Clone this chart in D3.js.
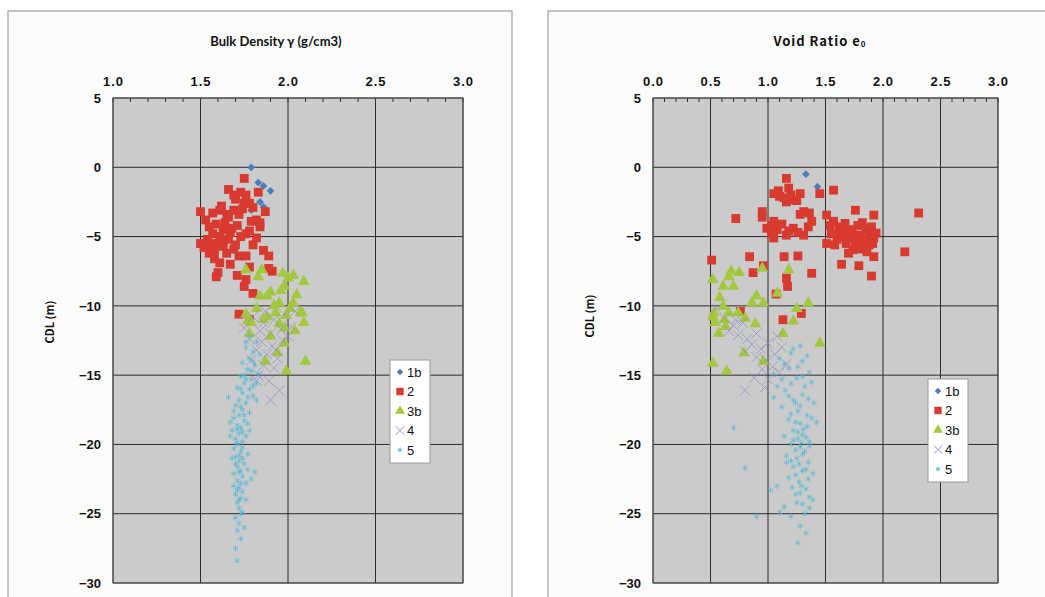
<!DOCTYPE html>
<html>
<head>
<meta charset="utf-8">
<script src="https://cdn.jsdelivr.net/npm/d3@7"></script>
<style>
  body { margin: 0; background: #fff; }
  svg { display: block; }
</style>
</head>
<body>
<svg id="chart" width="1045" height="597"></svg>
<script>
// categories
const seriesNames = ["1b", "2", "3b", "4", "5"]
const depthTicks = [5, 0, -5, -10, -15, -20, -25, -30]
const densityTicks = [1.0, 1.5, 2.0, 2.5, 3.0]
const voidTicks = [0.0, 0.5, 1.0, 1.5, 2.0, 2.5, 3.0]

// bulk density [gamma, CDL]
const density1b = [[1.79,0.0],[1.83,-1.1],[1.86,-1.35],[1.90,-1.7],[1.84,-2.5],[1.86,-2.85],[1.79,-3.1]]
const density2 = [[1.75,-0.8],[1.66,-1.6],[1.73,-1.8],[1.76,-2.0],[1.83,-1.8],[1.70,-2.3],[1.78,-2.6],[1.62,-2.8],
  [1.50,-3.2],[1.57,-3.3],[1.61,-3.1],[1.69,-3.1],[1.75,-2.6],[1.87,-3.2],[1.82,-3.8],[1.66,-3.6],[1.72,-3.4],
  [1.64,-4.0],[1.55,-4.3],[1.59,-4.1],[1.68,-4.4],[1.61,-5.0],[1.73,-5.0],[1.78,-4.6],[1.84,-4.3],[1.79,-3.9],
  [1.54,-5.2],[1.59,-5.5],[1.66,-5.2],[1.76,-4.8],[1.82,-5.1],[1.63,-5.7],[1.70,-5.6],[1.57,-4.8],[1.52,-5.8],
  [1.55,-6.2],[1.61,-6.9],[1.58,-6.0],[1.65,-6.2],[1.67,-4.7],[1.71,-4.2],[1.76,-6.4],[1.89,-6.4],[1.89,-7.3],
  [1.91,-7.5],[1.59,-7.9],[1.71,-7.8],[1.76,-8.1],[1.75,-8.6],[1.80,-9.1],[1.72,-10.6],[1.78,-11.0],[1.69,-5.9],
  [1.63,-4.5],[1.56,-5.6],[1.74,-3.0],[1.80,-2.9],[1.69,-2.0],[1.80,-5.6],[1.86,-6.0],[1.67,-7.0],[1.78,-7.2],
  [1.53,-3.8],[1.58,-6.6],[1.65,-3.4],[1.84,-4.0],[1.62,-5.3],[1.72,-6.4],[1.50,-5.5],[1.60,-7.6]]
const density3b = [[1.76,-7.4],[1.85,-7.4],[1.97,-7.65],[2.03,-7.8],[2.09,-8.25],[1.98,-8.6],[1.84,-9.3],[1.88,-9.3],
  [1.95,-9.8],[2.03,-9.8],[2.07,-10.5],[1.76,-10.6],[1.82,-10.2],[1.93,-10.5],[1.99,-10.7],[2.09,-11.2],[1.79,-11.2],
  [1.98,-11.6],[1.77,-11.1],[1.86,-11.0],[2.08,-10.5],[1.78,-12.0],[1.94,-13.4],[1.98,-12.7],[1.87,-14.0],[2.10,-14.0],
  [1.99,-14.7],[1.90,-9.0],[2.00,-8.0],[2.05,-9.2],[1.92,-10.0],[2.01,-10.2],[1.88,-10.8],[1.95,-11.3],[2.04,-11.8],
  [1.96,-8.9],[1.83,-7.9],[1.90,-12.2]]
const density4 = [[1.80,-10.8],[1.86,-11.2],[1.92,-11.0],[1.98,-10.6],[2.04,-10.4],[1.84,-11.8],[1.90,-12.0],[1.96,-11.7],
  [2.02,-11.5],[1.78,-12.4],[1.85,-12.6],[1.91,-12.9],[1.97,-12.5],[1.82,-13.2],[1.88,-13.5],[1.94,-13.8],[1.79,-13.9],
  [1.86,-14.3],[1.92,-14.5],[1.83,-15.0],[1.89,-15.4],[1.82,-15.4],[1.95,-16.1],[1.90,-16.8],[2.00,-12.2],[1.75,-11.6],
  [1.87,-10.4],[1.93,-13.2]]
const density5 = [[1.78,-12.2],[1.82,-12.6],[1.76,-13.0],[1.80,-13.3],[1.84,-13.5],[1.78,-13.8],[1.74,-14.1],[1.81,-14.3],
  [1.77,-14.6],[1.83,-14.9],[1.73,-15.1],[1.79,-15.3],[1.75,-15.6],[1.71,-15.9],[1.78,-16.0],[1.74,-16.3],[1.80,-16.5],
  [1.72,-16.8],[1.76,-17.0],[1.70,-17.2],[1.74,-17.5],[1.78,-17.7],[1.72,-17.9],[1.69,-18.1],[1.75,-18.3],[1.71,-18.6],
  [1.73,-18.8],[1.68,-19.0],[1.72,-19.2],[1.76,-19.4],[1.70,-19.6],[1.74,-19.8],[1.71,-20.0],[1.69,-20.3],[1.73,-20.5],
  [1.77,-20.7],[1.70,-20.9],[1.72,-21.2],[1.75,-21.4],[1.71,-21.6],[1.73,-21.9],[1.69,-22.1],[1.74,-22.3],[1.71,-22.6],
  [1.76,-22.8],[1.72,-23.1],[1.74,-23.4],[1.70,-23.6],[1.73,-23.9],[1.71,-24.2],[1.72,-24.6],[1.74,-24.9],[1.70,-25.3],
  [1.72,-25.7],[1.71,-26.2],[1.73,-26.8],[1.70,-27.5],[1.71,-28.4],[1.80,-15.8],[1.82,-16.8],[1.66,-16.6],[1.67,-19.4],
  [1.78,-19.0],[1.79,-22.5],[1.81,-22.0],[1.68,-21.0],[1.76,-24.0],[1.75,-15.0],[1.77,-18.5],[1.73,-17.3],[1.69,-23.0],
  [1.75,-26.0],[1.76,-12.6],[1.80,-14.0],[1.76,-15.3],[1.73,-16.0],[1.77,-16.6],[1.69,-17.6],[1.75,-17.9],[1.71,-18.9],
  [1.74,-19.1],[1.71,-19.9],[1.74,-20.2],[1.72,-20.8],[1.74,-21.0],[1.70,-21.4],[1.72,-22.0],[1.73,-22.8],[1.71,-23.3],
  [1.72,-24.0],[1.79,-14.7],[1.82,-15.6],[1.67,-18.4],[1.77,-21.8],[1.73,-25.0]]

// void ratio [e0, CDL]
const void1b = [[1.33,-0.5],[1.43,-1.4]]
const void2 = [[1.16,-0.8],[1.18,-1.5],[1.57,-1.65],[1.45,-1.9],[1.05,-1.9],[1.10,-2.1],[1.22,-2.35],[1.28,-1.9],
  [1.16,-2.5],[0.95,-3.2],[0.95,-3.6],[1.31,-3.2],[1.36,-3.3],[1.51,-3.45],[1.76,-3.1],[1.92,-3.45],[2.31,-3.3],
  [0.72,-3.7],[1.05,-3.9],[0.99,-4.4],[1.08,-4.5],[1.22,-4.4],[1.35,-4.3],[1.31,-4.9],[1.05,-5.1],[1.16,-4.9],
  [1.57,-3.9],[1.62,-4.3],[1.67,-4.05],[1.73,-4.5],[1.85,-4.5],[1.94,-4.75],[1.51,-5.5],[1.60,-5.2],[1.67,-5.0],
  [1.76,-5.5],[1.85,-5.2],[1.74,-5.95],[1.83,-5.8],[1.91,-5.5],[1.92,-6.45],[1.70,-6.2],[2.19,-6.1],[0.51,-6.7],
  [0.84,-6.45],[1.14,-6.45],[1.26,-6.4],[1.64,-7.0],[1.79,-7.1],[1.90,-7.85],[0.87,-7.6],[0.96,-7.1],[1.38,-7.65],
  [1.16,-8.0],[1.17,-8.6],[1.07,-9.15],[1.29,-10.55],[1.13,-11.0],[0.76,-10.4],[1.80,-4.9],[1.88,-5.6],[1.70,-4.7],
  [1.09,-1.7],[1.14,-2.2],[1.20,-2.0],[1.25,-2.4],[1.03,-4.2],[1.12,-4.1],[1.18,-4.6],[1.26,-4.7],[1.03,-4.8],
  [1.38,-3.9],[1.28,-3.4],[1.55,-4.8],[1.62,-4.7],[1.68,-5.5],[1.78,-4.2],[1.82,-4.0],[1.88,-4.9],[1.92,-5.1],
  [1.72,-5.1],[1.80,-5.9],[1.86,-6.1],[1.58,-5.6],[1.65,-4.4],[1.75,-4.9],[1.90,-4.3],[1.54,-4.2],[1.83,-5.4]]
const void3b = [[0.68,-7.5],[0.75,-7.6],[0.52,-8.1],[0.61,-8.6],[0.70,-8.6],[0.90,-9.3],[0.96,-9.8],[0.86,-9.8],
  [1.18,-7.4],[0.95,-7.3],[1.35,-9.8],[1.25,-10.2],[0.61,-10.05],[0.53,-10.5],[0.66,-10.5],[0.74,-10.5],[0.54,-11.2],
  [0.63,-11.5],[0.89,-11.3],[1.22,-11.1],[1.08,-9.1],[0.52,-10.8],[0.62,-11.0],[1.13,-12.0],[1.45,-12.7],[0.79,-13.4],
  [0.96,-14.0],[0.52,-14.15],[0.64,-14.7],[0.58,-9.4],[0.66,-7.9],[0.80,-10.9],[0.57,-12.0]]
const void4 = [[0.55,-10.2],[0.62,-10.9],[0.70,-11.4],[0.78,-11.2],[0.66,-11.8],[0.74,-12.1],[0.82,-12.4],[0.90,-12.0],
  [0.86,-12.8],[0.94,-13.1],[1.00,-12.7],[0.80,-13.3],[0.90,-13.7],[0.98,-13.9],[1.06,-13.5],[1.12,-13.0],[1.16,-14.2],
  [1.04,-14.4],[0.95,-14.6],[1.10,-14.8],[0.88,-15.2],[1.00,-15.3],[0.97,-15.9],[0.80,-16.1],[0.72,-11.0],[1.08,-12.2]]
const void5 = [[1.28,-12.9],[1.20,-13.4],[1.10,-13.8],[1.30,-14.0],[1.18,-14.5],[1.05,-14.9],[1.25,-15.2],[1.38,-15.5],
  [1.08,-15.8],[1.15,-16.1],[1.30,-16.4],[1.22,-16.8],[1.40,-17.0],[1.12,-17.3],[1.26,-17.6],[1.34,-17.9],[1.18,-18.2],
  [1.28,-18.5],[1.34,-18.7],[1.22,-19.0],[1.30,-19.3],[1.26,-19.6],[1.36,-19.8],[1.20,-20.0],[1.28,-20.2],[1.32,-20.5],
  [1.16,-20.8],[1.25,-21.0],[1.35,-21.3],[1.22,-21.6],[1.30,-21.9],[1.39,-22.1],[1.18,-22.4],[1.27,-22.7],[1.08,-23.0],
  [1.33,-23.2],[1.02,-23.3],[1.24,-23.6],[1.39,-24.0],[1.30,-24.3],[1.10,-24.9],[1.36,-24.6],[1.20,-25.2],[1.28,-25.9],
  [1.33,-26.4],[1.26,-27.1],[0.70,-18.8],[0.80,-21.7],[0.90,-25.2],[1.14,-19.4],[1.42,-18.4],[1.24,-17.0],[1.05,-16.6],
  [1.32,-15.8],[1.16,-21.3],[1.29,-23.0],[1.22,-13.1],[1.34,-13.6],[1.14,-14.2],[1.26,-14.4],[1.36,-14.8],[1.12,-15.3],
  [1.20,-15.6],[1.30,-15.1],[1.18,-16.5],[1.35,-16.7],[1.28,-17.2],[1.20,-17.8],[1.38,-18.1],[1.24,-18.4],[1.31,-18.9],
  [1.26,-19.1],[1.33,-19.5],[1.22,-19.7],[1.29,-19.9],[1.24,-20.4],[1.36,-20.1],[1.30,-20.7],[1.20,-21.2],[1.27,-21.4],
  [1.33,-21.8],[1.24,-22.2],[1.35,-22.5],[1.21,-23.1],[1.28,-23.5],[1.36,-23.8],[1.25,-24.2],[1.14,-24.5],[1.32,-25.0]]

const svg = d3.select("#chart")
const font = "'Liberation Sans', Arial, sans-serif"

const markers = {
  "1b": {type: d3.symbolSquare, size: 30, rotate: 45, fill: "#4a7ebb", stroke: "none"},
  "2":  {type: d3.symbolSquare, size: 78, rotate: 0, fill: "#d83a30", stroke: "none"},
  "3b": {type: d3.symbolTriangle, size: 60, rotate: 0, fill: "#a3c83e", stroke: "none"},
  "4":  {type: d3.symbolX, size: 70, rotate: 0, fill: "none", stroke: "#8f86c4"},
  "5":  {type: d3.symbolAsterisk, size: 26, rotate: 0, fill: "none", stroke: "#4cb6d6"}
}

function drawPanel(opt) {
  // frame
  svg.append("rect")
    .attr("x", opt.frame[0]).attr("y", opt.frame[1])
    .attr("width", opt.frame[2]).attr("height", opt.frame[3])
    .attr("fill", "#fcfcfc").attr("stroke", "#8a8a8a")

  var x = d3.scaleLinear().domain(opt.xDomain).range([opt.left, opt.right])
  var y = d3.scaleLinear().domain([5, -30]).range([98, 583])

  svg.append("rect")
    .attr("x", opt.left).attr("y", 98)
    .attr("width", opt.right - opt.left).attr("height", 583 - 98)
    .attr("fill", "#cbcbcb")

  // grid
  svg.append("g").selectAll("line").data(opt.xTicks).enter().append("line")
    .attr("x1", d => x(d)).attr("x2", d => x(d)).attr("y1", 98).attr("y2", 583)
    .attr("stroke", "#2a2a2a").attr("stroke-width", 1)
  svg.append("g").selectAll("line").data(depthTicks).enter().append("line")
    .attr("x1", opt.left).attr("x2", opt.right).attr("y1", d => y(d)).attr("y2", d => y(d))
    .attr("stroke", "#2a2a2a").attr("stroke-width", 1)

  // minor ticks along the top
  var minor = d3.range(Math.round(opt.xDomain[0] * 10), Math.round(opt.xDomain[1] * 10) + 1).map(d => d / 10)
  svg.append("g").selectAll("line").data(minor).enter().append("line")
    .attr("x1", d => x(d)).attr("x2", d => x(d)).attr("y1", 98).attr("y2", 102)
    .attr("stroke", "#333")

  svg.append("rect")
    .attr("x", opt.left).attr("y", 98)
    .attr("width", opt.right - opt.left).attr("height", 583 - 98)
    .attr("fill", "none").attr("stroke", "#555")

  // axes
  var top = svg.append("g")
    .attr("transform", "translate(0,98)")
    .call(d3.axisTop(x).tickValues(opt.xTicks).tickFormat(d3.format(".1f")).tickSize(0).tickPadding(12))
  top.select(".domain").remove()
  top.selectAll("text").attr("font-family", font).attr("font-weight", "bold").attr("font-size", 13)
    .attr("letter-spacing", 1).attr("fill", "#111")

  var left = svg.append("g")
    .attr("transform", "translate(" + opt.left + ",0)")
    .call(d3.axisLeft(y).tickValues(depthTicks).tickSize(0).tickPadding(12))
  left.select(".domain").remove()
  left.selectAll("text").attr("font-family", font).attr("font-weight", "bold").attr("font-size", 13).attr("fill", "#111")

  // points
  opt.data.forEach(function(pts, i) {
    var m = markers[seriesNames[i]]
    svg.append("g").selectAll("path").data(pts).enter().append("path")
      .attr("d", d3.symbol().type(m.type).size(m.size))
      .attr("transform", d => "translate(" + x(d[0]) + "," + y(d[1]) + ") rotate(" + m.rotate + ")")
      .attr("fill", m.fill)
      .attr("stroke", m.stroke)
      .attr("stroke-width", 0.9)
      .attr("opacity", i >= 3 ? 0.75 : 1)
  })

  // titles
  svg.append("text")
    .attr("x", opt.titleX).attr("y", 46)
    .attr("text-anchor", "middle")
    .attr("font-family", opt.titleFont).attr("font-weight", "bold").attr("font-size", 13)
    .attr("letter-spacing", opt.titleSpacing)
    .attr("fill", "#111")
    .text(opt.title)
    .append("tspan").attr("font-size", 8).attr("dy", 1).text(opt.titleSub)

  svg.append("text")
    .attr("transform", "translate(" + opt.yLabelX + "," + opt.yLabelY + ") rotate(-90)")
    .attr("text-anchor", "middle")
    .attr("font-family", "'Noto Sans CJK JP', sans-serif").attr("font-weight", "bold").attr("font-size", 11)
    .attr("fill", "#111")
    .text("CDL (m)")

  // legend
  var lg = svg.append("g").attr("transform", "translate(" + opt.legend[0] + "," + opt.legend[1] + ")")
  lg.append("rect").attr("width", 40).attr("height", 103)
    .attr("fill", "#fff").attr("stroke", "#999")
  seriesNames.forEach(function(s, i) {
    var m = markers[s]
    lg.append("path")
      .attr("d", d3.symbol().type(m.type).size(m.size * 0.7))
      .attr("transform", "translate(10," + (12 + i * 19.5) + ") rotate(" + m.rotate + ")")
      .attr("fill", m.fill).attr("stroke", m.stroke).attr("stroke-width", 0.9)
    lg.append("text")
      .attr("x", 17).attr("y", 12 + i * 19.5).attr("dy", "0.36em")
      .attr("font-family", font).attr("font-size", 13).attr("fill", "#111")
      .text(s)
  })
}

drawPanel({
  frame: [8, 11, 504, 600],
  left: 113, right: 463,
  xDomain: [1.0, 3.0], xTicks: densityTicks,
  data: [density1b, density2, density3b, density4, density5],
  title: "Bulk Density \u03b3 (g/cm3)", titleSub: "", titleX: 276, titleSpacing: 0,
  titleFont: "Lato, 'Open Sans', sans-serif",
  yLabelX: 54, yLabelY: 322,
  legend: [390, 360]
})

drawPanel({
  frame: [548, 11, 510, 600],
  left: 653, right: 998,
  xDomain: [0.0, 3.0], xTicks: voidTicks,
  data: [void1b, void2, void3b, void4, void5],
  title: "Void Ratio e", titleSub: "0", titleX: 820, titleSpacing: 1,
  titleFont: "'Noto Sans CJK JP', sans-serif",
  yLabelX: 594, yLabelY: 316,
  legend: [928, 379]
})
</script>
</body>
</html>
